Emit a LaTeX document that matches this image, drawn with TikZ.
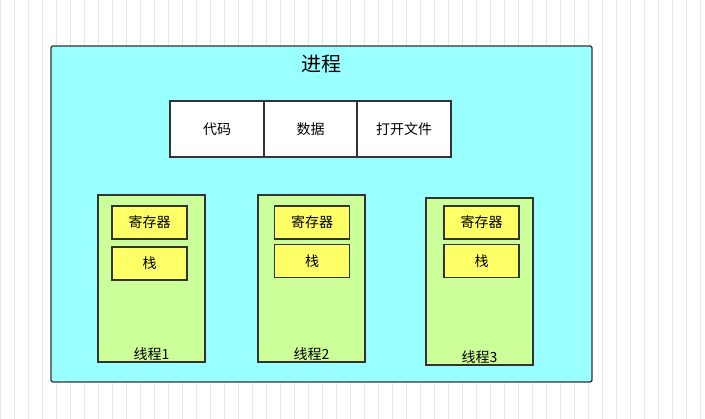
\documentclass[tikz,border=0pt]{standalone}
\usepackage{fontspec}
\setmainfont{Noto Sans CJK SC}
\definecolor{bgc}{RGB}{153,255,255}
\definecolor{thc}{RGB}{204,255,153}
\definecolor{yc}{RGB}{255,255,102}
\begin{document}
\begin{tikzpicture}[x=1pt,y=-1pt,
  bx/.style={draw=black!80,line width=1.3pt,font=\fontsize{14}{16}\selectfont},
  thr/.style={bx,fill=thc},
  yel/.style={bx,fill=yc}]
\useasboundingbox (0,0) rectangle (705,419);
\fill[white] (0,0) rectangle (705,419);
\draw[black!9,line width=0.6pt,step=14] (0,0) grid (705,419);
\draw[bx,fill=bgc,rounded corners=2pt] (51,46) rectangle (592,382);
\node[font=\fontsize{20}{24}\selectfont] (t) at (321,64) {进程};
\node[bx,fill=white,minimum width=94,minimum height=56] (a) at (217,129) {代码};
\node[bx,fill=white,minimum width=93,minimum height=56] (b) at (310.5,129) {数据};
\node[bx,fill=white,minimum width=94,minimum height=56] (c) at (404,129) {打开文件};
\foreach \n/\x/\y/\dx/\ya/\yb/\lab in {1/151.5/278.5/-2/222.5/263.5/线程1, 2/311.5/278.5/0.5/222.5/261/线程2, 3/479.5/281.5/2/222.5/261/线程3}{
  \node[thr,minimum width=107,minimum height=167] (th\n) at (\x,\y) {};
  \node[yel,minimum width=75,minimum height=33] (r\n) at (\x+\dx,\ya) {寄存器};
  \node[yel,minimum width=75,minimum height=33] (s\n) at (\x+\dx,\yb) {栈};
  \node[font=\fontsize{14}{16}\selectfont,anchor=south] (l\n) at ([yshift=-1]th\n.south) {\lab};
}
\end{tikzpicture}
\end{document}
